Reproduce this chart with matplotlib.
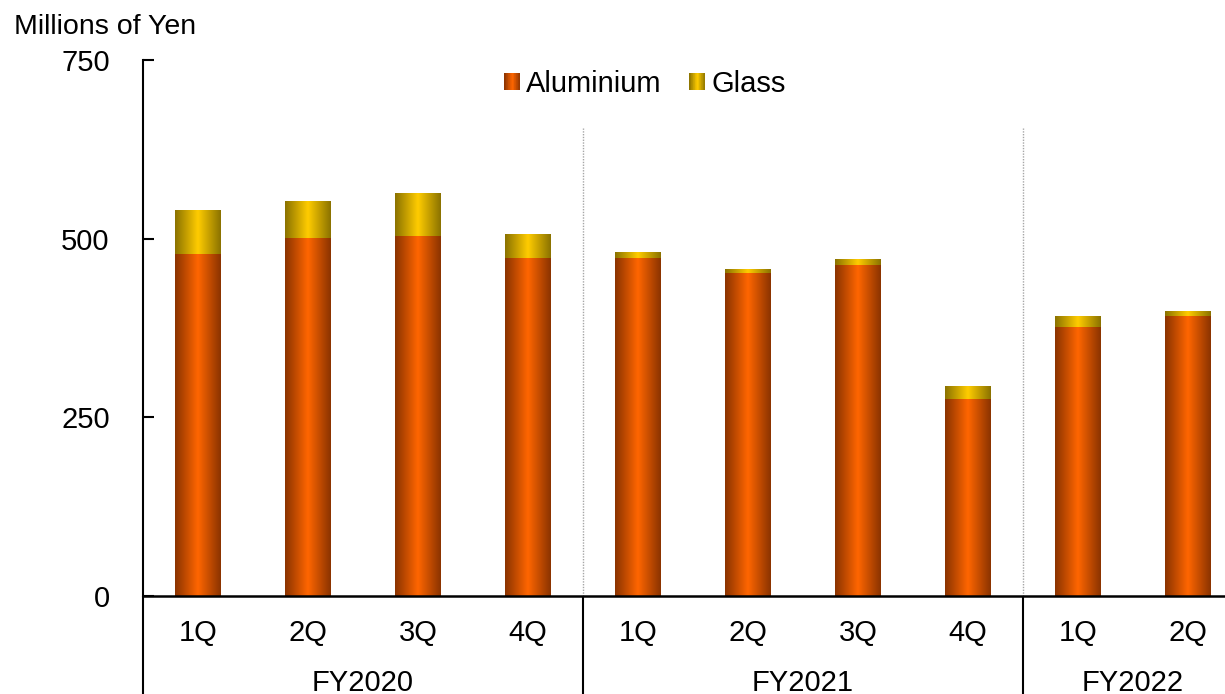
import numpy as np
import matplotlib
matplotlib.use("Agg")
import matplotlib.pyplot as plt
from matplotlib.colors import LinearSegmentedColormap
from matplotlib.patches import Rectangle
from matplotlib.legend_handler import HandlerBase

# Quarterly sales by segment (millions of yen)
quarters = ["1Q", "2Q", "3Q", "4Q", "1Q", "2Q", "3Q", "4Q", "1Q", "2Q"]
fiscal_years = ["FY2020", "FY2021", "FY2022"]
quarters_per_year = [4, 4, 2]
aluminium = [478, 501, 504, 473, 473, 452, 463, 276, 376, 392]
glass = [62, 52, 60, 34, 8, 6, 8, 18, 16, 7]
y_ticks = [0, 250, 500, 750]

plt.rcParams["font.family"] = ["Liberation Sans", "DejaVu Sans"]

al_cmap = LinearSegmentedColormap.from_list("al", ["#8A3300", "#FF6600"])
gl_cmap = LinearSegmentedColormap.from_list("gl", ["#8A7200", "#FFCC00"])

# symmetric horizontal shading: dark edges, bright centre
t = np.linspace(0, 1, 256)
shade = (1 - np.abs(2 * t - 1))[None, :]

W, H = 1225, 694
fig = plt.figure(figsize=(W / 100, H / 100), dpi=100)
ax = fig.add_axes([143 / W, 98 / H, 1100 / W, 536 / H])

x = np.arange(len(quarters))
bar_w = 0.41
FS = 21


def shaded_bars(bars, cmap):
    for b in bars:
        x0, y0 = b.get_x(), b.get_y()
        im = ax.imshow(shade, cmap=cmap, vmin=0, vmax=1, aspect="auto",
                       extent=[x0, x0 + b.get_width(), y0, y0 + b.get_height()],
                       interpolation="bilinear", zorder=2)
        im.set_clip_path(b)


al_bars = ax.bar(x, aluminium, width=bar_w, facecolor="none", edgecolor="none", zorder=2)
gl_bars = ax.bar(x, glass, bottom=aluminium, width=bar_w, facecolor="none",
                 edgecolor="none", zorder=2)
shaded_bars(al_bars, al_cmap)
shaded_bars(gl_bars, gl_cmap)

ax.set_xlim(-0.5, len(quarters) - 0.5)
ax.set_ylim(0, 750)
ax.set_aspect("auto")

# fiscal-year boundaries
bounds = np.cumsum([0] + quarters_per_year) - 0.5
for xb in bounds[1:-1]:
    ax.vlines(xb, 0, 655, colors="#A6A6A6", linestyles=(0, (1, 1)), lw=1.0, zorder=1)

trans = ax.get_xaxis_transform()
for xb in bounds[:-1]:
    ax.plot([xb, xb], [0, -0.25], transform=trans, color="black", lw=1.5,
            clip_on=False, solid_capstyle="butt")

for xi, q in zip(x, quarters):
    ax.text(xi, -0.084, q, transform=trans, ha="center", va="baseline", fontsize=FS)

for i, fy in enumerate(fiscal_years):
    c = (bounds[i] + bounds[i + 1]) / 2
    ax.text(c, -0.177, fy, transform=trans, ha="center", va="baseline", fontsize=FS)

ax.set_xticks([])
ax.set_yticks(y_ticks)
ax.tick_params(axis="y", direction="in", length=8, width=1.5, pad=24, labelsize=FS)
for s in ("top", "right"):
    ax.spines[s].set_visible(False)
ax.spines["left"].set_linewidth(1.5)
ax.spines["bottom"].set_linewidth(1.8)
ax.spines["bottom"].set_zorder(3)

fig.text(14 / W, 1 - 34 / H, "Millions of Yen", fontsize=20.5, ha="left", va="baseline")


class ShadedHandler(HandlerBase):
    def __init__(self, cmap, n=24):
        super().__init__()
        self.cmap = cmap
        self.n = n

    def create_artists(self, legend, orig_handle, xdescent, ydescent, width,
                       height, fontsize, trans):
        arts = []
        step = width / self.n
        for k in range(self.n):
            v = 1 - abs(2 * (k + 0.5) / self.n - 1)
            r = Rectangle((-xdescent + k * step, -ydescent), step * 1.05, height,
                          facecolor=self.cmap(v), edgecolor="none", transform=trans)
            arts.append(r)
        return arts


h_al = Rectangle((0, 0), 1, 1)
h_gl = Rectangle((0, 0), 1, 1)
fig.legend([h_al, h_gl], ["Aluminium", "Glass"],
           handler_map={h_al: ShadedHandler(al_cmap), h_gl: ShadedHandler(gl_cmap)},
           loc="center", bbox_to_anchor=(645 / W, 1 - 84 / H),
           bbox_transform=fig.transFigure, ncol=2, frameon=False, fontsize=FS,
           handlelength=0.55, handleheight=0.55, handletextpad=0.2,
           columnspacing=0.95, borderpad=0, borderaxespad=0)

fig.savefig("out.png", dpi=100)
